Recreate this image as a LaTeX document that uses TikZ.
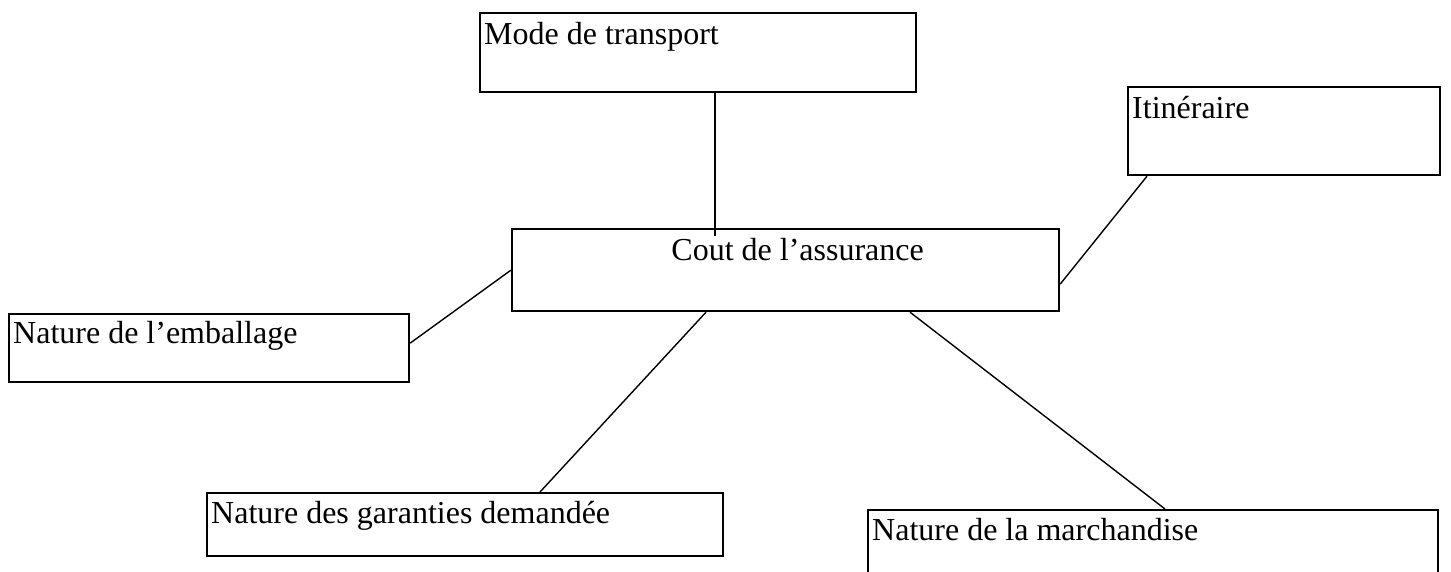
\documentclass[tikz,border=0pt]{standalone}
\usepackage{fontspec}
\setmainfont{Liberation Serif}
\begin{document}
\begin{tikzpicture}[x=1pt,y=-1pt,
  box/.style={draw, line width=2.2pt, anchor=north west, inner sep=0pt},
  lbl/.style={anchor=north west, inner xsep=5pt, inner ysep=10pt, font=\fontsize{32}{38}\selectfont},
  link/.style={line width=1.4pt}]
\useasboundingbox (0,0) rectangle (1451,571);
\clip (0,0) rectangle (1451,571);
\node[box, minimum width=436pt, minimum height=79pt,
  label={[lbl]north west:Mode de transport}] (mode) at (479,12) {};
\node[box, minimum width=312pt, minimum height=88pt,
  label={[lbl]north west:Itinéraire}] (itin) at (1127,86) {};
\node[box, minimum width=547pt, minimum height=82pt,
  label={[lbl, anchor=north, xshift=12pt]north:Cout de l’assurance}] (cout) at (511,228) {};
\node[box, minimum width=400pt, minimum height=68pt,
  label={[lbl, inner ysep=8pt]north west:Nature de l’emballage}] (emb) at (8,313) {};
\node[box, minimum width=516pt, minimum height=63pt,
  label={[lbl, inner ysep=9pt]north west:Nature des garanties demandée}] (gar) at (206,492) {};
\node[box, minimum width=570pt, minimum height=90pt,
  label={[lbl, inner ysep=9pt]north west:Nature de la marchandise}] (mar) at (867,509) {};
\draw[link] ([xshift=236pt]mode.south west) -- ([xshift=204pt,yshift=-8pt]cout.north west);
\draw[link] ([xshift=20pt]itin.south west) -- ([yshift=-14pt]cout.east);
\draw[link] ([yshift=5pt]emb.east) -- (cout.west);
\draw[link] ([xshift=334pt]gar.north west) -- ([xshift=195pt]cout.south west);
\draw[link] ([xshift=298pt]mar.north west) -- ([xshift=399pt]cout.south west);
\end{tikzpicture}
\end{document}
